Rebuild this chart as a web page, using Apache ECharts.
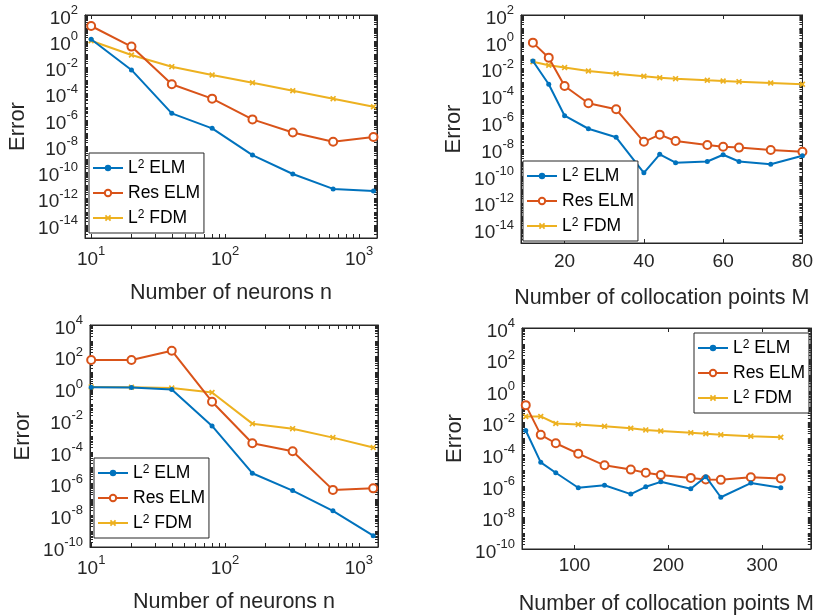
<!DOCTYPE html>
<html>
<head>
<meta charset="utf-8">
<script src="https://cdn.jsdelivr.net/npm/echarts@6/dist/echarts.min.js"></script>
<style>
  html, body { margin: 0; padding: 0; background: #fff; }
  #main { width: 816px; height: 616px; }
</style>
</head>
<body>
<div id="main"></div>
<script>
// x values
const neuronsN = [10, 20, 40, 80, 160, 320, 640, 1280];
const pointsMTop = [12, 16, 20, 26, 33, 40, 44, 48, 56, 60, 64, 72, 80];
const pointsMBottom = [48, 64, 80, 104, 132, 160, 176, 192, 224, 240, 256, 288, 320];

// top-left: error vs neurons
const tlL2Elm = [1.4, 6.5e-3, 3.2e-6, 2.3e-7, 2.1e-9, 7.6e-11, 5.5e-12, 3.9e-12];
const tlResElm = [14.5, 0.39, 5.2e-4, 4.2e-5, 1.1e-6, 1.1e-7, 2.2e-8, 5e-8];
const tlL2Fdm = [1.1, 0.089, 0.0115, 2.7e-3, 6.9e-4, 1.7e-4, 4.2e-5, 1.0e-5];

// top-right: error vs collocation points
const trL2Elm = [0.037, 6.8e-4, 3.1e-6, 3.3e-7, 7.6e-8, 1.7e-10, 4.1e-9, 9.8e-10, 1.2e-9, 3.8e-9, 1.2e-9, 7.4e-10, 3.2e-9];
const trResElm = [0.87, 0.066, 5.1e-4, 2.6e-5, 9.3e-6, 3.5e-8, 1.2e-7, 4e-8, 2e-8, 1.5e-8, 1.3e-8, 8.5e-9, 6.4e-9];
const trL2Fdm = [0.033, 0.018, 0.012, 6.6e-3, 4.2e-3, 2.7e-3, 2.1e-3, 1.8e-3, 1.35e-3, 1.2e-3, 1.07e-3, 8.5e-4, 6.8e-4];

// bottom-left
const blL2Elm = [1.2, 1.15, 0.85, 4.3e-3, 4.5e-6, 3.6e-7, 1.9e-8, 5.2e-10];
const blResElm = [62, 62, 240, 0.145, 3.5e-4, 1.1e-4, 4e-7, 5e-7];
const blL2Fdm = [1.25, 1.2, 1.05, 0.55, 6e-3, 2.9e-3, 7.9e-4, 1.9e-4];

// bottom-right
const brL2Elm = [3.2e-3, 3.1e-5, 6.8e-6, 7.6e-7, 1.1e-6, 3e-7, 8.7e-7, 1.8e-6, 6.6e-7, 3.8e-6, 1.9e-7, 1.5e-6, 7.6e-7];
const brResElm = [0.13, 1.7e-3, 5e-4, 1.1e-4, 2e-5, 1.07e-5, 6.8e-6, 4.8e-6, 3.2e-6, 2.5e-6, 2.4e-6, 3.5e-6, 2.9e-6];
const brL2Fdm = [0.025, 0.025, 8.9e-3, 7.8e-3, 5.9e-3, 4.5e-3, 3.5e-3, 3e-3, 2.3e-3, 2e-3, 1.7e-3, 1.4e-3, 1.2e-3];

// tick labels
const logXTicks = [10, 100, 1000];
const topYTicks = [1e-14, 1e-12, 1e-10, 1e-8, 1e-6, 1e-4, 1e-2, 1, 1e2];
const bottomYTicks = [1e-10, 1e-8, 1e-6, 1e-4, 1e-2, 1, 1e2, 1e4];
const linXTicksTop = [20, 40, 60, 80];
const linXTicksBottom = [100, 200, 300];

const seriesNames = ['L2 ELM', 'Res ELM', 'L2 FDM'];

const FONT = '"Liberation Sans", Arial, Helvetica, sans-serif';
const AX = '#262626';
const COLORS = ['#0072BD', '#D95319', '#EDB120'];
const X_PATH = 'path://M2,0L5,3L8,0L10,2L7,5L10,8L8,10L5,7L2,10L0,8L3,5L0,2Z';

// minor ticks at m*10^k, used for log axes
function logMinor(lo, hi) {
    const out = [];
    for (let k = lo; k <= hi; k++) {
        for (let m = 1; m < 10; m++) out.push(Number((m * Math.pow(10, k)).toPrecision(3)));
    }
    return out;
}

const supRich = {
    b: { fontSize: 19, lineHeight: 22, padding: [7, 0, 0, 0], color: AX, fontFamily: FONT },
    s: { fontSize: 13, lineHeight: 14, verticalAlign: 'top', color: AX, fontFamily: FONT }
};

function powLabel(v) {
    const e = Math.round(Math.log10(v));
    return '{b|10}{s|' + e + '}';
}

const grids = [
    { left: 85, top: 15, width: 292, height: 223 },
    { left: 521, top: 15, width: 287, height: 228 },
    { left: 90, top: 325, width: 288, height: 222 },
    { left: 522, top: 328, width: 290, height: 227 }
];

function makeX(gi, type, min, max, labels, ticks, name, margin) {
    const base = {
        gridIndex: gi,
        type: type,
        min: min,
        max: max,
        splitLine: { show: false },
        axisLine: { onZero: false, lineStyle: { color: AX, width: 1 } },
        axisTick: { inside: true, length: 4, customValues: ticks, lineStyle: { color: AX } }
    };
    const bottom = Object.assign({}, base, {
        position: 'bottom',
        name: name,
        nameLocation: 'middle',
        nameGap: 44,
        nameTextStyle: { fontSize: 21.5, color: AX, fontFamily: FONT },
        axisLabel: type === 'log'
            ? { customValues: labels, margin: margin, formatter: powLabel, rich: supRich }
            : { customValues: labels, margin: margin, fontSize: 19, color: AX, fontFamily: FONT }
    });
    const top = Object.assign({}, base, {
        position: 'top',
        axisLabel: { show: false }
    });
    return [bottom, top];
}

function makeY(gi, min, max, labels, ticks) {
    const base = {
        gridIndex: gi,
        type: 'log',
        logBase: 10,
        min: min,
        max: max,
        splitLine: { show: false },
        axisLine: { onZero: false, lineStyle: { color: AX, width: 1 } },
        axisTick: { inside: true, length: 3, customValues: ticks, lineStyle: { color: AX } }
    };
    const left = Object.assign({}, base, {
        position: 'left',
        name: 'Error',
        nameLocation: 'middle',
        nameGap: 56,
        nameTextStyle: { fontSize: 22, color: AX, fontFamily: FONT },
        axisLabel: { customValues: labels, margin: 7, formatter: powLabel, rich: supRich }
    });
    const right = Object.assign({}, base, {
        position: 'right',
        axisLabel: { show: false }
    });
    return [left, right];
}

const xAxis = [].concat(
    makeX(0, 'log', 9, 1360, logXTicks, logMinor(0, 3), 'Number of neurons n', 7),
    makeX(1, 'value', 9, 80, linXTicksTop, linXTicksTop, 'Number of collocation points M', 9),
    makeX(2, 'log', 9.8, 1390, logXTicks, logMinor(0, 3), 'Number of neurons n', 7),
    makeX(3, 'value', 44, 352, linXTicksBottom, linXTicksBottom, 'Number of collocation points M', 7)
);
const yAxis = [].concat(
    makeY(0, 1e-15, 1e2, topYTicks, logMinor(-15, 2)),
    makeY(1, 1e-15, 1e2, topYTicks, logMinor(-15, 2)),
    makeY(2, 1e-10, 1e4, bottomYTicks, logMinor(-10, 4)),
    makeY(3, 1e-10, 1e4, bottomYTicks, logMinor(-10, 4))
);

function zip(xs, ys) {
    return xs.map((x, i) => [x, ys[i]]);
}

function panelSeries(gi, xs, sets) {
    return sets.map((ys, k) => ({
        name: seriesNames[k],
        type: 'line',
        xAxisIndex: gi * 2,
        yAxisIndex: gi * 2,
        data: zip(xs, ys),
        symbol: k === 0 ? 'circle' : (k === 1 ? 'emptyCircle' : X_PATH),
        symbolSize: k === 0 ? 5 : (k === 1 ? 8 : 6),
        showAllSymbol: true,
        lineStyle: { color: COLORS[k], width: 2 },
        itemStyle: { color: COLORS[k], borderColor: COLORS[k], borderWidth: k === 1 ? 1.5 : 0 },
        z: 3 - k
    }));
}

const series = [].concat(
    panelSeries(0, neuronsN, [tlL2Elm, tlResElm, tlL2Fdm]),
    panelSeries(1, pointsMTop, [trL2Elm, trResElm, trL2Fdm]),
    panelSeries(2, neuronsN, [blL2Elm, blResElm, blL2Fdm]),
    panelSeries(3, pointsMBottom, [brL2Elm, brResElm, brL2Fdm])
);

const legendPos = [
    { left: 89, top: 153 },
    { left: 523, top: 161 },
    { left: 94, top: 458 },
    { left: 694, top: 333 }
];

const legend = legendPos.map(p => ({
    data: seriesNames,
    left: p.left,
    top: p.top,
    orient: 'vertical',
    selectedMode: false,
    backgroundColor: '#fff',
    borderColor: AX,
    borderWidth: 1,
    borderRadius: 0,
    padding: [6, 4, 6, 3],
    itemGap: 7,
    itemWidth: 30,
    itemHeight: 8,
    formatter: name => name === 'Res ELM' ? '{t|Res ELM}' : '{t|L}{s|2}{t|' + name.slice(2) + '}',
    textStyle: {
        rich: {
            t: { fontSize: 17.5, lineHeight: 18, color: '#000', fontFamily: FONT },
            s: { fontSize: 12, lineHeight: 12, verticalAlign: 'top', color: '#000', fontFamily: FONT }
        }
    }
}));

const chart = echarts.init(document.getElementById('main'));
chart.setOption({
    animation: false,
    backgroundColor: '#fff',
    grid: grids.map(g => Object.assign({ show: true, borderColor: AX, borderWidth: 1, backgroundColor: 'transparent' }, g)),
    xAxis: xAxis,
    yAxis: yAxis,
    legend: legend,
    series: series
});
</script>
</body>
</html>
